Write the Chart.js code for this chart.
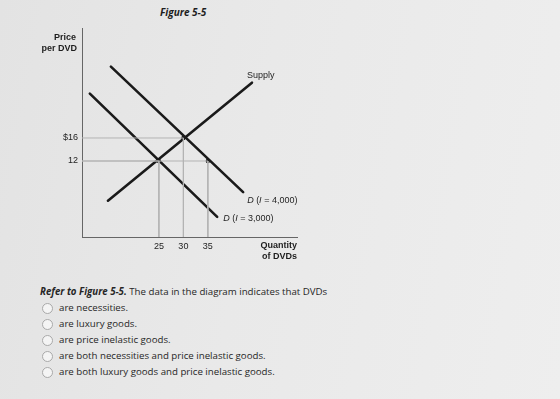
<!DOCTYPE html>
<html>
<head>
<meta charset="utf-8">
<script src="https://cdn.jsdelivr.net/npm/chart.js@4/dist/chart.umd.min.js"></script>
<style>
  html, body { margin: 0; padding: 0; }
  body {
    width: 560px; height: 399px; overflow: hidden; position: relative;
    background: linear-gradient(100deg, #e3e3e3 0%, #e9e9e9 45%, #eeeeee 100%);
    font-family: "Open Sans", sans-serif;
  }
  #title {
    position: absolute; left: 160px; top: 5px;
    font: italic 700 10px "Open Sans", sans-serif; color: #1e1e1e;
  }
  #chartBox { position: absolute; left: 0; top: 0; width: 560px; height: 270px; }
  #question {
    position: absolute; left: 40px; top: 284px;
    font-size: 9.7px; color: #262626; line-height: 16px;
  }
  #question .lead b { font-style: italic; font-weight: 700; }
  .opt { position: relative; padding-left: 19px; }
  .opt::before {
    content: ""; position: absolute; left: 2px; top: 3px;
    width: 9px; height: 9px; border-radius: 50%;
    border: 1px solid #a9a9a9; background: #f4f4f4;
  }
</style>
</head>
<body>
<div id="title">Figure 5-5</div>
<div id="chartBox"><canvas id="chart"></canvas></div>
<div id="question">
  <div class="lead"><b>Refer to Figure 5-5.</b> The data in the diagram indicates that DVDs</div>
  <div class="opt">are necessities.</div>
  <div class="opt">are luxury goods.</div>
  <div class="opt">are price inelastic goods.</div>
  <div class="opt">are both necessities and price inelastic goods.</div>
  <div class="opt">are both luxury goods and price inelastic goods.</div>
</div>
<script>
// tick values
const xTicks = [25, 30, 35];
const yTicks = [12, 16];
const yTickLabels = { 12: "12", 16: "$16" };

// curves (quantity, price) endpoints
const supplyQ = [14.6, 44.0];
const supplyP = [5.1, 25.6];
const demand3000Q = [10.9, 36.9];
const demand3000P = [23.7, 2.3];
const demand4000Q = [15.2, 42.2];
const demand4000P = [28.4, 6.6];

// marked points
const markQ = [25, 30, 35];
const markP = [12, 16, 12];

const X_MIN = 9.3, X_MAX = 53.2;
const Y_MIN = -1.2, Y_MAX = 35.1;

const toPts = (qs, ps) => qs.map((q, i) => ({ x: q, y: ps[i] }));

const lineColor = "#1a1a1a";
const guideColor = "#b3b3b3";
const textColor = "#1e1e1e";
const chartFont = "'Liberation Sans', Arial, sans-serif";

// gray guide lines from axes to each marked point
const guides = markQ.map((q, i) => ({
  data: [{ x: X_MIN, y: markP[i] }, { x: q, y: markP[i] }, { x: q, y: Y_MIN }],
  borderColor: guideColor,
  borderWidth: 1,
  pointRadius: 0,
  showLine: true,
  fill: false
}));

const curve = (qs, ps) => ({
  data: toPts(qs, ps),
  borderColor: lineColor,
  borderWidth: 2.6,
  pointRadius: 0,
  showLine: true,
  fill: false,
  borderCapStyle: "round"
});

// labels beside the curve ends + axis titles
const curveLabels = {
  id: "curveLabels",
  afterDatasetsDraw(chart) {
    const { ctx, scales: { x, y } } = chart;
    ctx.save();
    ctx.fillStyle = textColor;
    ctx.textBaseline = "middle";

    const mixed = (parts, px, py) => {
      let cx = px;
      parts.forEach(([txt, italic]) => {
        ctx.font = (italic ? "italic " : "") + "9px " + chartFont;
        ctx.fillText(txt, cx, py);
        cx += ctx.measureText(txt).width;
      });
    };

    ctx.textAlign = "left";
    mixed([["Supply", false]], x.getPixelForValue(supplyQ[1]) - 5, y.getPixelForValue(supplyP[1]) - 7);
    mixed([["D", true], [" (", false], ["I", true], [" = 4,000)", false]],
      x.getPixelForValue(demand4000Q[1]) + 4, y.getPixelForValue(demand4000P[1]) + 8);
    mixed([["D", true], [" (", false], ["I", true], [" = 3,000)", false]],
      x.getPixelForValue(demand3000Q[1]) + 6, y.getPixelForValue(demand3000P[1]) + 2);

    ctx.font = "bold 9px " + chartFont;
    ctx.textAlign = "right";
    ctx.fillText("Price", x.left - 6, y.top + 10);
    ctx.fillText("per DVD", x.left - 5, y.top + 21);
    ctx.fillText("Quantity", x.right, y.bottom + 9);
    ctx.fillText("of DVDs", x.right, y.bottom + 20);
    ctx.restore();
  }
};

new Chart(document.getElementById("chart"), {
  type: "scatter",
  data: {
    datasets: [
      ...guides,
      curve(supplyQ, supplyP),
      curve(demand3000Q, demand3000P),
      curve(demand4000Q, demand4000P),
      {
        data: toPts(markQ, markP),
        pointRadius: 2.2,
        pointBackgroundColor: lineColor,
        pointBorderWidth: 0,
        showLine: false
      }
    ]
  },
  options: {
    responsive: true,
    maintainAspectRatio: false,
    animation: false,
    layout: { padding: { left: 0, top: 28, right: 263, bottom: 0 } },
    plugins: { legend: { display: false }, tooltip: { enabled: false } },
    scales: {
      x: {
        type: "linear",
        min: X_MIN, max: X_MAX,
        afterBuildTicks: s => { s.ticks = xTicks.map(v => ({ value: v })); },
        afterFit: s => { s.height = 33; },
        grid: { display: false, drawTicks: false },
        border: { display: true, color: "#666", width: 1 },
        ticks: {
          color: textColor, padding: 4,
          font: { family: chartFont, size: 9 },
          maxRotation: 0
        }
      },
      y: {
        type: "linear",
        min: Y_MIN, max: Y_MAX,
        afterBuildTicks: s => { s.ticks = yTicks.map(v => ({ value: v })); },
        afterFit: s => { s.width = 82; },
        grid: { display: false, drawTicks: false },
        border: { display: true, color: "#666", width: 1 },
        ticks: {
          color: textColor, padding: 4,
          font: { family: chartFont, size: 9 },
          callback: v => yTickLabels[v]
        }
      }
    }
  },
  plugins: [curveLabels]
});
</script>
</body>
</html>
